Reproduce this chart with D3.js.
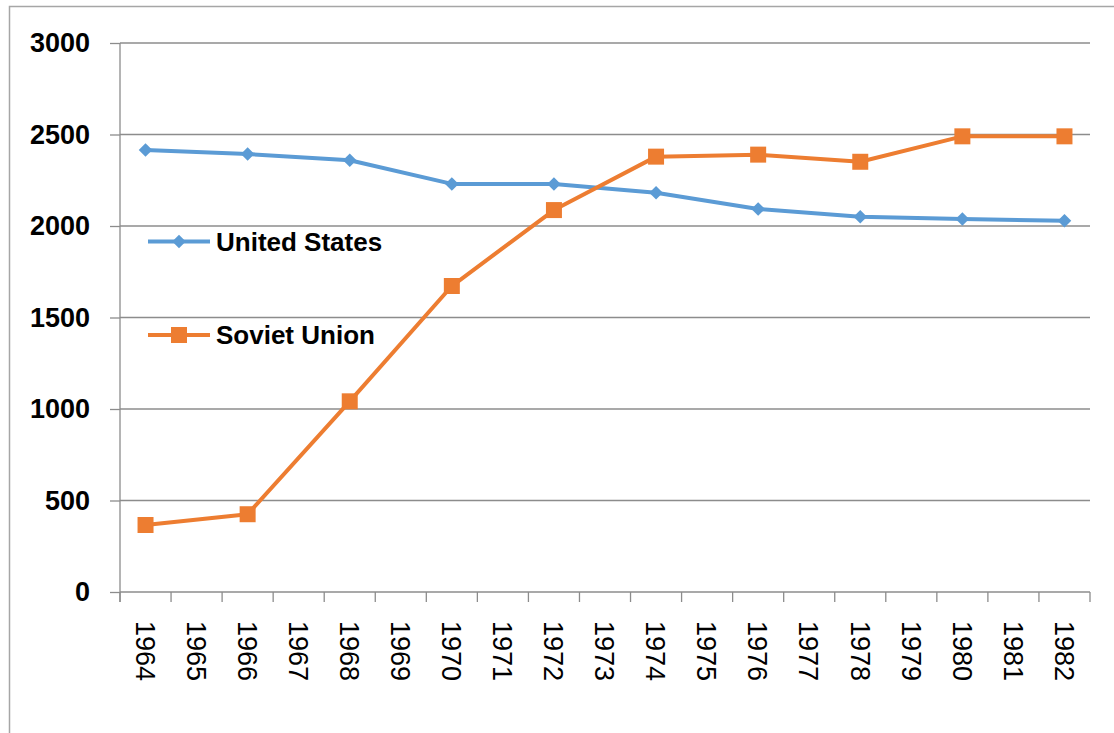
<!DOCTYPE html>
<html>
<head>
<meta charset="utf-8">
<script src="https://cdn.jsdelivr.net/npm/d3@7"></script>
<style>
  body { margin: 0; background: #fff; }
  svg { display: block; font-family: "Liberation Sans", Arial, sans-serif; }
</style>
</head>
<body>
<svg id="chart"></svg>
<script>
// categories on the x axis (every year gets a slot, only even years have data)
const YEARS = ["1964", "1965", "1966", "1967", "1968", "1969", "1970", "1971", "1972", "1973",
    "1974", "1975", "1976", "1977", "1978", "1979", "1980", "1981", "1982"]
const DATA_YEARS = ["1964", "1966", "1968", "1970", "1972", "1974", "1976", "1978", "1980", "1982"]
const US_VALUES = [2415, 2393, 2359, 2230, 2230, 2182, 2093, 2051, 2038, 2029]
const SOVIET_VALUES = [366, 425, 1042, 1672, 2087, 2379, 2390, 2351, 2490, 2490]
const Y_TICKS = [0, 500, 1000, 1500, 2000, 2500, 3000]

const US_COLOR = "#5B9BD5"
const SOVIET_COLOR = "#ED7D31"
const GRID_COLOR = "#8c8c8c"

const W = 1114, H = 733
const plot = {left: 120, right: 1090, top: 43, bottom: 592}

const svg = d3.select("#chart").attr("width", W).attr("height", H)

// outer frame of the chart object
svg.append("rect")
    .attr("x", 9.5).attr("y", 6.5)
    .attr("width", W).attr("height", H)
    .attr("fill", "none")
    .attr("stroke", "#a6a6a6")
    .attr("stroke-width", 1.5)

const xScale = d3.scaleBand()
    .domain(YEARS)
    .range([plot.left, plot.right])
    .padding(0)

const yScale = d3.scaleLinear()
    .domain([0, 3000])
    .range([plot.bottom, plot.top])

const xMid = d => xScale(d) + xScale.bandwidth() / 2

// horizontal gridlines
svg.append("g").selectAll("line")
    .data(Y_TICKS)
    .join("line")
    .attr("x1", plot.left).attr("x2", plot.right)
    .attr("y1", d => yScale(d)).attr("y2", d => yScale(d))
    .attr("stroke", GRID_COLOR)
    .attr("stroke-width", 1.3)

// y axis with outside ticks and labels
const yAxisGroup = svg.append("g")
    .attr("transform", `translate(${plot.left},0)`)
    .call(d3.axisLeft(yScale)
        .tickValues(Y_TICKS)
        .tickFormat(d3.format("d"))
        .tickSize(10)
        .tickPadding(20)
        .tickSizeOuter(0))
yAxisGroup.select(".domain").remove()
yAxisGroup.selectAll(".tick line").attr("stroke", GRID_COLOR).attr("stroke-width", 1.3)
yAxisGroup.selectAll(".tick text")
    .attr("fill", "#000")
    .style("font-size", "27px")
    .style("font-weight", "bold")

svg.append("line")
    .attr("x1", plot.left).attr("x2", plot.left)
    .attr("y1", plot.top).attr("y2", plot.bottom + 10)
    .attr("stroke", GRID_COLOR)
    .attr("stroke-width", 1.3)

// x axis: ticks on category boundaries
const boundaries = YEARS.map(d => xScale(d)).concat([plot.right])
svg.append("g").selectAll("line")
    .data(boundaries)
    .join("line")
    .attr("x1", d => d).attr("x2", d => d)
    .attr("y1", plot.bottom).attr("y2", plot.bottom + 10)
    .attr("stroke", GRID_COLOR)
    .attr("stroke-width", 1.3)

svg.append("g").selectAll("text")
    .data(YEARS)
    .join("text")
    .attr("transform", d => `translate(${xMid(d)},${plot.bottom + 29}) rotate(90)`)
    .attr("dy", "0.36em")
    .attr("text-anchor", "start")
    .style("font-size", "27px")
    .attr("fill", "#000")
    .text(d => d)

// series
const series = [
    {name: "United States", values: US_VALUES, color: US_COLOR, marker: "diamond", legendY: 241.5},
    {name: "Soviet Union", values: SOVIET_VALUES, color: SOVIET_COLOR, marker: "square", legendY: 335}
]

const line = d3.line()
    .x(d => xMid(d.year))
    .y(d => yScale(d.value))

const diamond = d3.symbol().type(d3.symbolSquare).size(92)
const square = d3.symbol().type(d3.symbolSquare).size(256)

const drawMarker = (g, kind, color, x, y) => {
    if (kind === "diamond") {
        g.append("path")
            .attr("d", diamond())
            .attr("transform", `translate(${x},${y}) rotate(45)`)
            .attr("fill", color)
    } else {
        g.append("path")
            .attr("d", square())
            .attr("transform", `translate(${x},${y})`)
            .attr("fill", color)
    }
}

series.forEach(s => {
    const points = DATA_YEARS.map((year, i) => ({year: year, value: s.values[i]}))
    const g = svg.append("g")

    g.append("path")
        .datum(points)
        .attr("d", line)
        .attr("fill", "none")
        .attr("stroke", s.color)
        .attr("stroke-width", 4)
        .attr("stroke-linejoin", "round")

    points.forEach(p => drawMarker(g, s.marker, s.color, xMid(p.year), yScale(p.value)))

    // legend entry
    const lg = svg.append("g")
    lg.append("line")
        .attr("x1", 148).attr("x2", 210)
        .attr("y1", s.legendY).attr("y2", s.legendY)
        .attr("stroke", s.color)
        .attr("stroke-width", 4)
    drawMarker(lg, s.marker, s.color, 179, s.legendY)
    lg.append("text")
        .attr("x", 216)
        .attr("y", s.legendY)
        .attr("dy", "0.36em")
        .style("font-size", "26px")
        .style("font-weight", "bold")
        .attr("fill", "#000")
        .text(s.name)
})
</script>
</body>
</html>
